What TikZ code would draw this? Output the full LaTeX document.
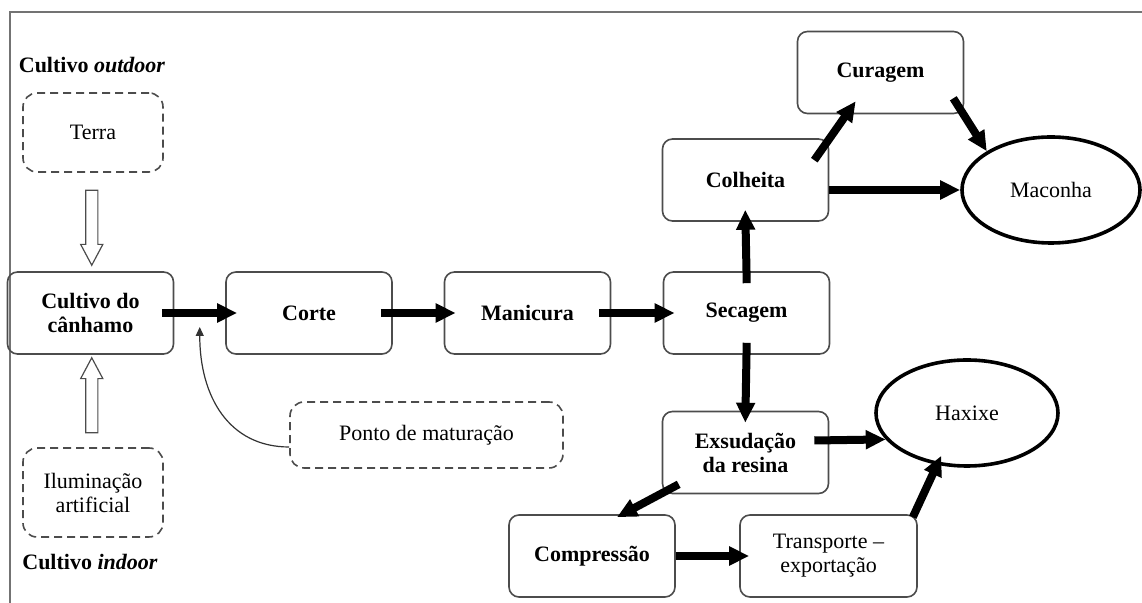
\documentclass[tikz,border=0pt]{standalone}
\usepackage{fontspec}
\setmainfont{Liberation Serif}
\usetikzlibrary{calc,arrows.meta,shapes.arrows,shapes.geometric}

\begin{document}
\begin{tikzpicture}[x=0.5pt,y=-0.5pt,
    stage/.style={draw=black!70,line width=0.8pt,rounded corners=5pt,align=center,
        minimum width=83pt,minimum height=41pt,font=\fontsize{11}{12}\selectfont\bfseries},
    inputbox/.style={draw=black!70,line width=0.8pt,dash pattern=on 4pt off 2.5pt,rounded corners=7pt,
        align=center,minimum width=70pt,font=\fontsize{11}{12}\selectfont},
    product/.style={ellipse,draw,line width=1.8pt,minimum width=89pt,minimum height=53pt,
        font=\fontsize{11}{12}\selectfont},
    flow/.style={line width=4pt,-{Triangle[length=10pt,width=9pt]}},
    intobox/.style={shorten <=-6pt,shorten >=-6pt},
    hollow/.style={single arrow,draw=black!70,line width=0.6pt,minimum width=10.5pt,
        single arrow head extend=2.5pt,single arrow tip angle=56,inner sep=2.75pt,minimum height=37.5pt},
    thinarrow/.style={black!80,line width=0.6pt,-{Triangle[length=4.5pt,width=4pt]}}
]
    \useasboundingbox (0,0) rectangle (1142,603); % same size as the scan
    \draw[black!55,line width=1pt] (1142,12) -- (10,12) -- (10,603);

    % main line
    \node[stage] (cultivo) at (90.5,313) {Cultivo do\\cânhamo};
    \node[stage] (corte) at (309,313) {Corte};
    \node[stage] (manicura) at (527.5,313) {Manicura};
    \node[stage] (secagem) at (746.5,313) {Secagem};
    \node[stage] (colheita) at (745.5,180) {Colheita};
    \node[stage] (curagem) at (880.5,72.5) {Curagem};
    \node[stage] (exsudacao) at (745.5,452.5) {Exsudação\\da resina};
    \node[stage] (compressao) at (592,556) {Compressão};
    \node[stage,font=\fontsize{11}{12}\selectfont,minimum width=88.5pt] (transporte) at (828.5,556) {Transporte --\\exportação};
    \node[product] (maconha) at (1051,190) {Maconha};
    \node[product,minimum width=91pt] (haxixe) at (967,413) {Haxixe};

    % inputs
    \node[font=\fontsize{11}{12}\selectfont\bfseries] (outdoor) at (92,65) {Cultivo \textit{outdoor}};
    \node[inputbox,minimum height=39.5pt] (terra) at (93,132.5) {Terra};
    \node[inputbox,minimum height=44.5pt] (iluminacao) at (93,492.5) {Iluminação\\artificial};
    \node[font=\fontsize{11}{12}\selectfont\bfseries] (indoor) at (90,562) {Cultivo \textit{indoor}};
    \node[inputbox,minimum width=136.5pt,minimum height=33pt] (ponto) at (426.5,435) {Ponto de maturação};

    \node[hollow,shape border rotate=270] (terraarrow) at ($(terra.south)!0.5!(cultivo.north)$) {};
    \node[hollow,shape border rotate=90] (luzarrow) at ($(iluminacao.north)!0.5!(cultivo.south)$) {};

    \draw[flow,intobox] (cultivo.east) -- (corte.west);
    \draw[flow,intobox] (corte.east) -- (manicura.west);
    \draw[flow,intobox] (manicura.east) -- (secagem.west);
    \draw[flow,intobox] (secagem.north) -- (colheita.south);
    \draw[flow] ($(colheita.north east)+(-15,22)$) -- ($(curagem.south west)+(59,-13)$);
    \draw[flow] ($(curagem.south east)+(-11,-16)$) -- (maconha.north west);
    \draw[flow] (colheita.east |- maconha.west) -- (maconha.west);
    \draw[flow,intobox] (secagem.south) -- (exsudacao.north);
    \draw[flow] ($(exsudacao.east)+(-15,-12)$) -- (haxixe.198);
    \draw[flow] ($(exsudacao.south west)+(17,-10)$) -- ($(compressao.north)+(25,3)$);
    \draw[flow,shorten >=-5pt] (compressao.east) -- (transporte.west);
    \draw[flow,shorten >=-5pt] ($(transporte.north east)+(-5,3)$) -- (haxixe.240);

    % maturity point
    \coordinate (mature) at ($(cultivo.east)!0.5!(corte.west)+(0,14)$);
    \draw[thinarrow] ($(ponto.west)+(0,12)$) .. controls ($(ponto.west)+(-60,12)$) and ($(mature)+(0,70)$) .. (mature);
\end{tikzpicture}
\end{document}
